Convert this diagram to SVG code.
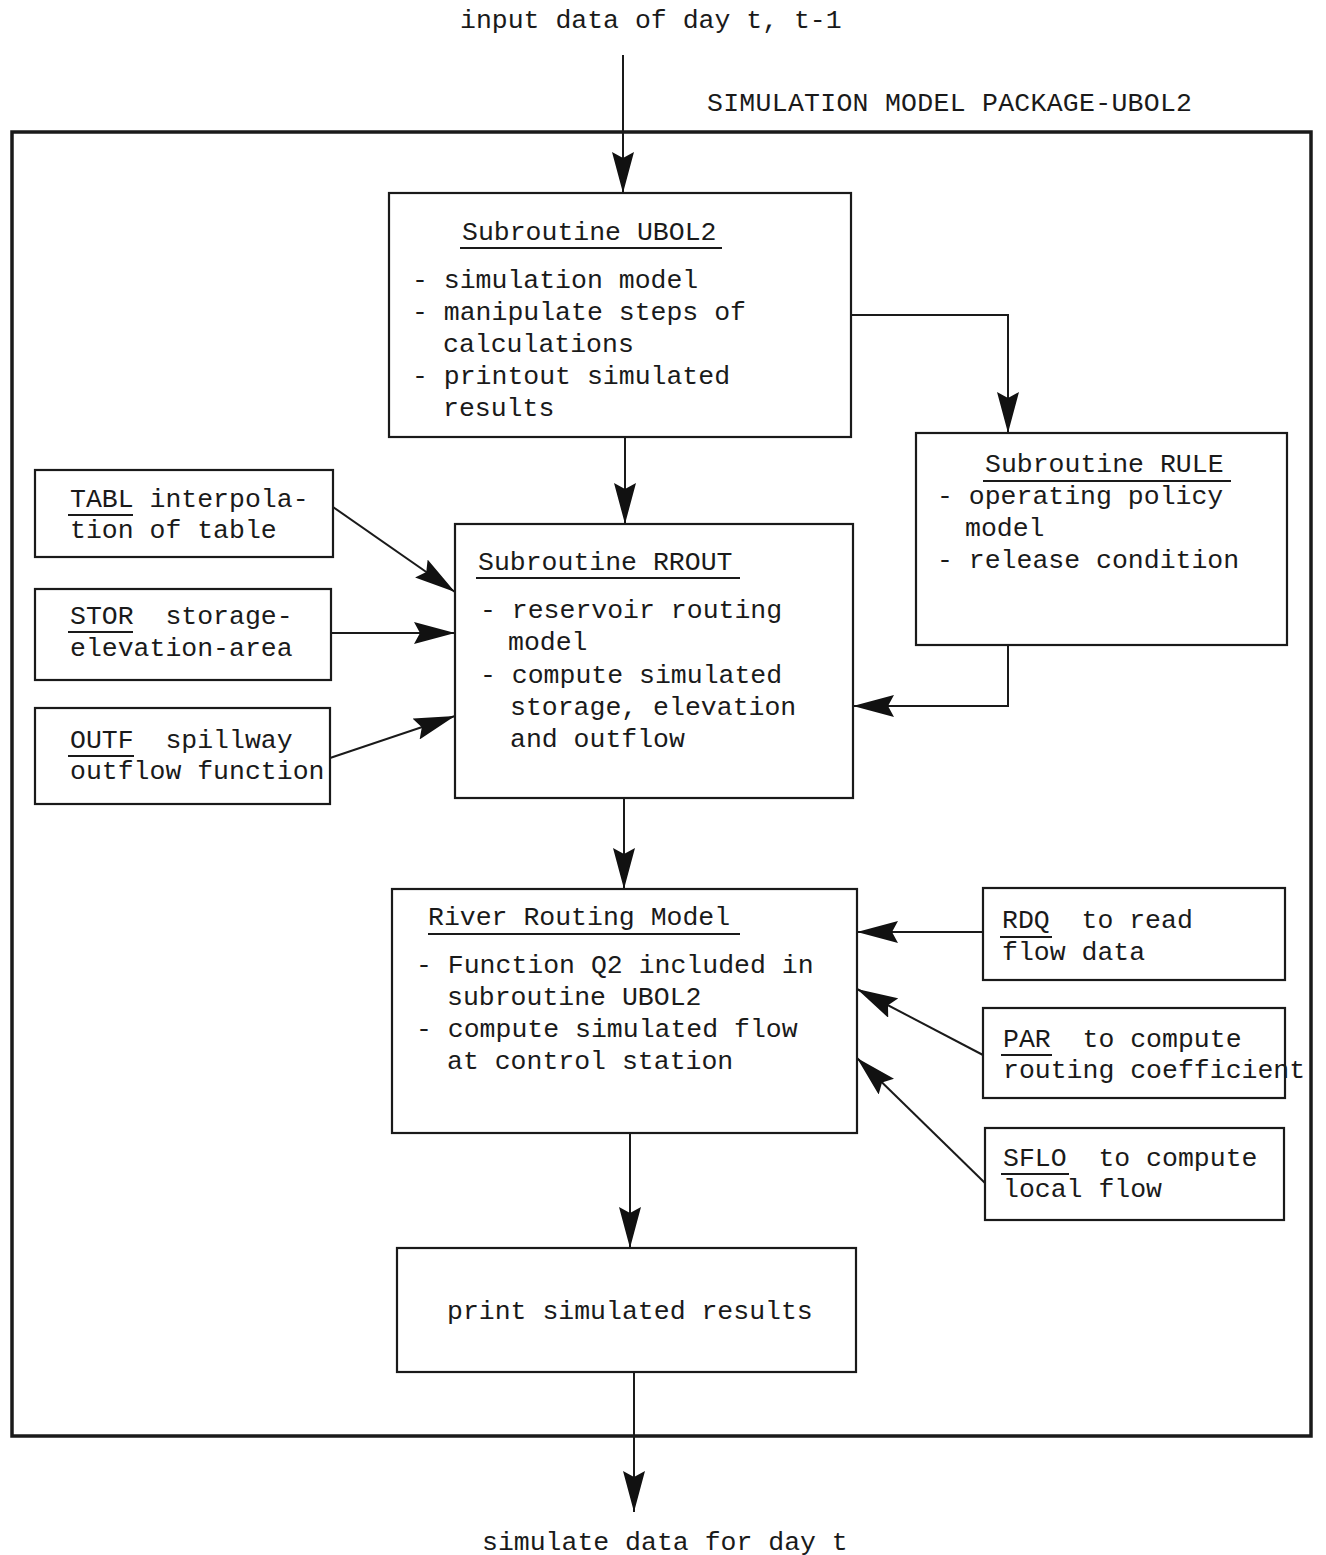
<svg xmlns="http://www.w3.org/2000/svg" width="1326" height="1555" viewBox="0 0 1326 1555">
<defs>
<marker id="ah" markerUnits="userSpaceOnUse" viewBox="0 0 42 22" markerWidth="42" markerHeight="22" refX="41" refY="11" orient="auto">
<path d="M0,0 L41,11 L0,22 L6,11 z" fill="#111"/>
</marker>
<style>
text{font-family:"Liberation Mono","Courier New",monospace;font-size:26.5px;fill:#1a1a1a;white-space:pre}
.box{fill:none;stroke:#1a1a1a;stroke-width:2.2}
.ul{stroke:#1a1a1a;stroke-width:2}
.con{fill:none;stroke:#1a1a1a;stroke-width:2;marker-end:url(#ah)}
.frame{fill:none;stroke:#1a1a1a;stroke-width:3.5}
</style>
</defs>
<rect width="1326" height="1555" fill="#fff"/>
<text x="460" y="28">input data of day t, t-1</text>
<text x="707" y="111" textLength="485">SIMULATION MODEL PACKAGE-UBOL2</text>
<rect class="frame" x="12" y="132" width="1299" height="1304"/>
<text x="482" y="1550">simulate data for day t</text>

<g id="connectors">
<path class="con" d="M623,55 L623,193"/>
<path class="con" d="M851,315 L1008,315 L1008,433"/>
<path class="con" d="M625,437 L625,524"/>
<path class="con" d="M1008,645 L1008,706 L853,706"/>
<path class="con" d="M333,507 L455,592"/>
<path class="con" d="M331,633 L455,633"/>
<path class="con" d="M330,758 L455,716"/>
<path class="con" d="M624,798 L624,889"/>
<path class="con" d="M983,932 L857,932"/>
<path class="con" d="M983,1055 L857,989"/>
<path class="con" d="M985,1183 L857,1058"/>
<path class="con" d="M630,1133 L630,1248"/>
<path class="con" d="M634,1372 L634,1512"/>
</g>

<g id="ubol2">
<rect class="box" x="389" y="193" width="462" height="244"/>
<text x="462" y="240">Subroutine UBOL2</text>
<line class="ul" x1="460" y1="248" x2="722" y2="248"/>
<text x="412" y="288">- simulation model</text>
<text x="412" y="320">- manipulate steps of</text>
<text x="443" y="352">calculations</text>
<text x="412" y="384">- printout simulated</text>
<text x="443" y="416">results</text>
</g>

<g id="rule">
<rect class="box" x="916" y="433" width="371" height="212"/>
<text x="985" y="472">Subroutine RULE</text>
<line class="ul" x1="983" y1="481" x2="1231" y2="481"/>
<text x="937" y="504">- operating policy</text>
<text x="965" y="536">model</text>
<text x="937" y="568">- release condition</text>
</g>

<g id="rrout">
<rect class="box" x="455" y="524" width="398" height="274"/>
<text x="478" y="570">Subroutine RROUT</text>
<line class="ul" x1="476" y1="578" x2="740" y2="578"/>
<text x="480" y="618">- reservoir routing</text>
<text x="508" y="650">model</text>
<text x="480" y="683">- compute simulated</text>
<text x="510" y="715">storage, elevation</text>
<text x="510" y="747">and outflow</text>
</g>

<g id="tabl">
<rect class="box" x="35" y="470" width="298" height="87"/>
<text x="70" y="507">TABL interpola-</text>
<line class="ul" x1="68" y1="515" x2="133" y2="515"/>
<text x="70" y="538">tion of table</text>
</g>

<g id="stor">
<rect class="box" x="35" y="589" width="296" height="91"/>
<text x="70" y="624">STOR  storage-</text>
<line class="ul" x1="68" y1="632" x2="133" y2="632"/>
<text x="70" y="656">elevation-area</text>
</g>

<g id="outf">
<rect class="box" x="35" y="708" width="295" height="96"/>
<text x="70" y="748">OUTF  spillway</text>
<line class="ul" x1="68" y1="756" x2="134" y2="756"/>
<text x="70" y="779">outflow function</text>
</g>

<g id="river">
<rect class="box" x="392" y="889" width="465" height="244"/>
<text x="428" y="925">River Routing Model</text>
<line class="ul" x1="428" y1="934" x2="740" y2="934"/>
<text x="416" y="973">- Function Q2 included in</text>
<text x="447" y="1005">subroutine UBOL2</text>
<text x="416" y="1037">- compute simulated flow</text>
<text x="447" y="1069">at control station</text>
</g>

<g id="rdq">
<rect class="box" x="983" y="888" width="302" height="92"/>
<text x="1002" y="928">RDQ  to read</text>
<line class="ul" x1="1000" y1="937" x2="1052" y2="937"/>
<text x="1002" y="960">flow data</text>
</g>

<g id="par">
<rect class="box" x="983" y="1008" width="302" height="90"/>
<text x="1003" y="1047">PAR  to compute</text>
<line class="ul" x1="1001" y1="1055" x2="1052" y2="1055"/>
<text x="1003" y="1078">routing coefficient</text>
</g>

<g id="sflo">
<rect class="box" x="985" y="1128" width="299" height="92"/>
<text x="1003" y="1166">SFLO  to compute</text>
<line class="ul" x1="1001" y1="1174" x2="1069" y2="1174"/>
<text x="1003" y="1197">local flow</text>
</g>

<g id="print">
<rect class="box" x="397" y="1248" width="459" height="124"/>
<text x="447" y="1319">print simulated results</text>
</g>
</svg>
